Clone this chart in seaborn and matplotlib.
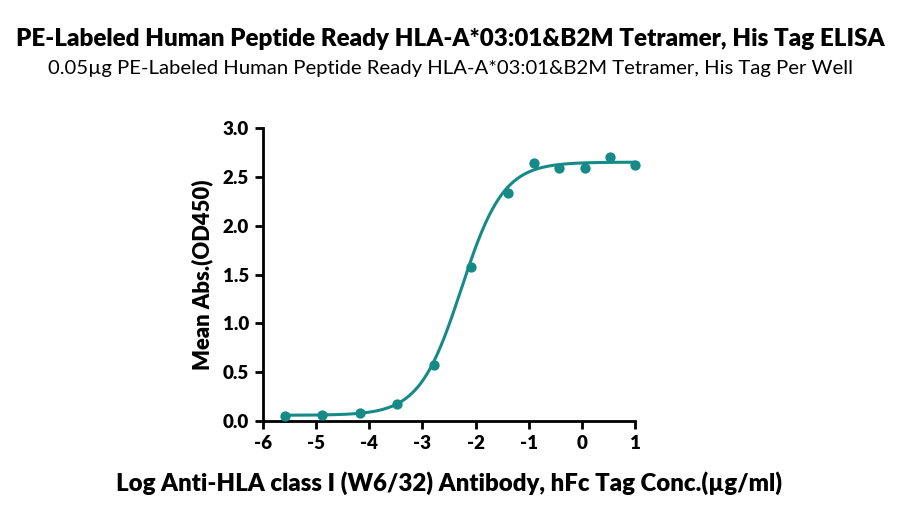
import numpy as np
import pandas as pd
import matplotlib
matplotlib.use("Agg")
import matplotlib.pyplot as plt
import seaborn as sns

# Data
log_conc = [1.0, 0.523, 0.046, -0.431, -0.908, -1.385, -2.084, -2.783, -3.482, -4.181, -4.880, -5.579]
od450 = [2.623, 2.705, 2.586, 2.586, 2.637, 2.339, 1.575, 0.575, 0.178, 0.082, 0.062, 0.055]

# 4PL fit parameters (estimated from the drawn curve)
fit_bottom = 0.06
fit_top = 2.65
fit_logec50 = -2.27
fit_hill = 1.1

title = "PE-Labeled Human Peptide Ready HLA-A*03:01&B2M Tetramer, His Tag ELISA"
subtitle = "0.05\u00b5g PE-Labeled Human Peptide Ready HLA-A*03:01&B2M Tetramer, His Tag Per Well"
xlabel = "Log Anti-HLA class I (W6/32) Antibody, hFc Tag Conc.(\u00b5g/ml)"
ylabel = "Mean Abs.(OD450)"
xticks = [-6, -5, -4, -3, -2, -1, 0, 1]
yticks = [0.0, 0.5, 1.0, 1.5, 2.0, 2.5, 3.0]

color = "#168a87"

sns.set_theme(style="ticks")
plt.rcParams['font.family'] = ['Lato', 'DejaVu Sans']
plt.rcParams['text.color'] = 'black'
plt.rcParams['axes.labelcolor'] = 'black'
plt.rcParams['xtick.color'] = 'black'
plt.rcParams['ytick.color'] = 'black'

df = pd.DataFrame({"x": log_conc, "y": od450})
xs = np.linspace(min(log_conc), max(log_conc), 300)
ys = fit_bottom + (fit_top - fit_bottom) / (1 + 10 ** ((fit_logec50 - xs) * fit_hill))
curve = pd.DataFrame({"x": xs, "y": ys})

fig = plt.figure(figsize=(9, 5.18), dpi=100)
ax = fig.add_axes([0.292, 0.187, 0.414, 0.566])

sns.lineplot(data=curve, x="x", y="y", ax=ax, color=color, linewidth=2.2)
sns.scatterplot(data=df, x="x", y="y", ax=ax, color=color, s=55, edgecolor=color, linewidth=0, zorder=3, clip_on=False)

ax.set_xlim(-6, 1)
ax.set_ylim(0, 3)
ax.set_xticks(xticks)
ax.set_xticklabels([str(t) for t in xticks])
ax.set_yticks(yticks)
ax.set_yticklabels([f"{t:.1f}" for t in yticks])
for s in ["top", "right"]:
    ax.spines[s].set_visible(False)
for s in ["left", "bottom"]:
    ax.spines[s].set_linewidth(2)
    ax.spines[s].set_color("black")
ax.tick_params(axis="both", width=2, length=6, color="black", labelcolor="black", labelsize=13.5, pad=4)
for lab in ax.get_xticklabels() + ax.get_yticklabels():
    lab.set_fontweight("heavy")

ax.set_xlabel(xlabel, fontsize=17.3, fontweight="heavy", labelpad=14, color="black")
ax.set_ylabel(ylabel, fontsize=15.8, fontweight="heavy", labelpad=7, color="black")

fig.text(0.5, 0.925, title, ha="center", va="center", fontsize=17.4, fontweight="heavy", color="black")
fig.text(0.5, 0.868, subtitle, ha="center", va="center", fontsize=14.6, color="black")

fig.savefig("out.png", dpi=100)
